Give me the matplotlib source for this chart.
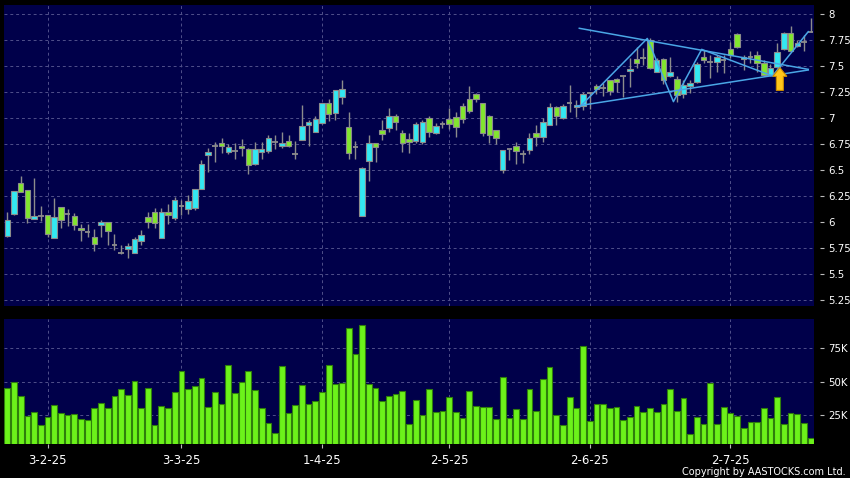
import numpy as np
import matplotlib
matplotlib.use("Agg")
import matplotlib.pyplot as plt
from matplotlib.patches import FancyArrow

# daily candles, oldest first
opens = [5.87, 6.08, 6.375, 6.31, 6.03, 6.055, 6.065, 5.845, 6.145, 6.075,
         6.06, 5.94, 5.90, 5.86, 5.97, 6.0, 5.78, 5.70, 5.74, 5.70,
         5.815, 6.05, 6.095, 5.845, 6.095, 6.035, 6.155, 6.125, 6.13, 6.315,
         6.645, 6.73, 6.755, 6.67, 6.685, 6.735, 6.70, 6.56, 6.67, 6.685,
         6.77, 6.735, 6.775, 6.655, 6.79, 6.93, 6.87, 6.95, 7.14, 7.045,
         7.20, 6.915, 6.725, 6.06, 6.585, 6.755, 6.885, 6.90, 7.015, 6.86,
         6.795, 6.775, 6.765, 7.0, 6.86, 6.94, 6.995, 7.005, 7.12, 7.18,
         7.23, 7.14, 7.02, 6.88, 6.50, 6.70, 6.735, 6.655, 6.69, 6.86,
         6.815, 6.935, 7.11, 7.0, 7.14, 7.105, 7.12, 7.245, 7.31, 7.285,
         7.365, 7.375, 7.40, 7.45, 7.565, 7.58, 7.75, 7.445, 7.565, 7.40,
         7.375, 7.235, 7.31, 7.35, 7.585, 7.535, 7.54, 7.56, 7.66, 7.805,
         7.565, 7.59, 7.605, 7.525, 7.415, 7.495, 7.66, 7.815, 7.69, 7.735,
         7.83]
highs = [6.10, 6.30, 6.445, 6.31, 6.42, 6.155, 6.07, 6.23, 6.145, 6.125,
         6.085, 5.985, 5.985, 5.935, 6.02, 6.0, 5.88, 5.78, 5.80, 5.86,
         5.925, 6.095, 6.13, 6.135, 6.175, 6.245, 6.21, 6.255, 6.315, 6.60,
         6.71, 6.77, 6.81, 6.75, 6.755, 6.795, 6.71, 6.765, 6.77, 6.835,
         6.835, 6.87, 6.835, 6.78, 7.125, 6.98, 7.02, 7.14, 7.18, 7.265,
         7.37, 7.055, 6.78, 6.53, 6.835, 6.755, 6.98, 7.10, 7.04, 6.885,
         6.855, 6.965, 6.98, 7.02, 6.95, 6.975, 7.10, 7.06, 7.14, 7.31,
         7.24, 7.14, 7.03, 6.885, 6.695, 6.70, 6.765, 6.69, 6.855, 6.935,
         7.0, 7.14, 7.12, 7.13, 7.315, 7.175, 7.25, 7.25, 7.33, 7.335,
         7.37, 7.38, 7.40, 7.575, 7.685, 7.67, 7.765, 7.575, 7.575, 7.59,
         7.40, 7.365, 7.365, 7.54, 7.655, 7.61, 7.605, 7.61, 7.73, 7.815,
         7.605, 7.64, 7.64, 7.56, 7.515, 7.72, 7.83, 7.88, 7.75, 7.80,
         7.96]
lows = [5.86, 6.07, 6.285, 5.99, 6.03, 6.005, 5.855, 5.845, 5.94, 5.965,
        5.925, 5.815, 5.855, 5.72, 5.855, 5.775, 5.735, 5.69, 5.655, 5.70,
        5.78, 5.94, 5.94, 5.845, 5.985, 6.015, 6.065, 6.075, 6.12, 6.315,
        6.485, 6.58, 6.665, 6.655, 6.61, 6.63, 6.46, 6.545, 6.61, 6.66,
        6.70, 6.715, 6.72, 6.605, 6.785, 6.735, 6.87, 6.94, 6.975, 6.985,
        7.13, 6.61, 6.61, 6.06, 6.39, 6.58, 6.79, 6.87, 6.885, 6.675,
        6.66, 6.76, 6.75, 6.82, 6.85, 6.90, 6.89, 6.82, 6.95, 7.045,
        7.15, 6.825, 6.755, 6.75, 6.47, 6.595, 6.555, 6.565, 6.65, 6.735,
        6.77, 6.93, 6.935, 6.99, 7.06, 7.005, 7.075, 7.085, 7.23, 7.21,
        7.22, 7.25, 7.205, 7.30, 7.48, 7.51, 7.47, 7.44, 7.33, 7.39,
        7.155, 7.19, 7.245, 7.34, 7.525, 7.38, 7.445, 7.43, 7.575, 7.67,
        7.46, 7.525, 7.445, 7.405, 7.40, 7.48, 7.65, 7.64, 7.68, 7.64,
        7.83]
closes = [6.02, 6.30, 6.29, 6.035, 6.06, 6.055, 5.885, 6.05, 6.015, 6.075,
          5.97, 5.925, 5.90, 5.79, 6.0, 5.915, 5.78, 5.70, 5.77, 5.835,
          5.875, 6.0, 5.99, 6.095, 6.065, 6.21, 6.155, 6.205, 6.315, 6.56,
          6.675, 6.73, 6.73, 6.725, 6.685, 6.715, 6.545, 6.70, 6.705, 6.81,
          6.77, 6.76, 6.735, 6.655, 6.92, 6.96, 6.995, 7.14, 7.04, 7.265,
          7.28, 6.66, 6.725, 6.515, 6.755, 6.72, 6.85, 7.015, 6.965, 6.755,
          6.765, 6.94, 6.96, 6.87, 6.925, 6.94, 6.94, 6.91, 6.99, 7.065,
          7.185, 6.855, 6.835, 6.805, 6.69, 6.70, 6.685, 6.655, 6.805, 6.815,
          6.96, 7.11, 7.02, 7.12, 7.14, 7.125, 7.235, 7.245, 7.28, 7.285,
          7.26, 7.35, 7.40, 7.47, 7.525, 7.58, 7.48, 7.56, 7.365, 7.44,
          7.22, 7.315, 7.34, 7.52, 7.56, 7.535, 7.585, 7.56, 7.605, 7.685,
          7.59, 7.59, 7.525, 7.415, 7.48, 7.63, 7.815, 7.645, 7.725, 7.735,
          7.83]
# volume in thousands
volumes = [45.4, 49.9, 39.2, 24.5, 27.0, 17.3, 23.2, 32.5, 26.5, 24.8,
           26.0, 22.0, 21.5, 30.2, 33.9, 30.2, 39.2, 44.7, 40.2, 50.1,
           30.5, 45.4, 17.5, 32.0, 30.2, 41.9, 58.1, 44.2, 46.4, 52.9,
           30.7, 42.2, 33.2, 62.1, 41.4, 49.9, 57.9, 43.4, 30.5, 19.0,
           11.3, 61.6, 26.7, 32.5, 47.1, 33.5, 35.7, 42.2, 62.3, 47.9,
           49.1, 89.7, 70.8, 92.2, 47.9, 45.4, 35.7, 39.4, 40.7, 43.2,
           18.5, 36.2, 25.0, 44.2, 27.6, 28.1, 38.4, 27.1, 23.0, 42.9,
           31.7, 31.2, 30.7, 22.0, 53.1, 23.0, 29.5, 22.0, 44.5, 27.9,
           51.6, 60.8, 25.2, 17.5, 38.2, 30.2, 76.5, 20.5, 33.5, 33.0,
           30.0, 31.2, 21.3, 23.8, 31.7, 27.1, 30.2, 27.1, 33.0, 44.2,
           27.9, 37.7, 10.8, 23.5, 18.5, 49.1, 18.0, 31.2, 26.7, 24.5,
           15.3, 19.5, 20.0, 30.0, 22.5, 38.7, 18.0, 26.2, 25.5, 19.0,
           7.9]

date_labels = ["3-2-25", "3-3-25", "1-4-25", "2-5-25", "2-6-25", "2-7-25"]
date_pos = [6, 26, 47, 66, 87, 108]
price_ticks = [8, 7.75, 7.5, 7.25, 7, 6.75, 6.5, 6.25, 6, 5.75, 5.5, 5.25]
vol_ticks = [25, 50, 75]

# triangle pattern lines (bar index, price)
upper_x = [85.44, 119.64]
upper_y = [7.8625, 7.468]
lower_x = [85.05, 119.64]
lower_y = [7.115, 7.4615]
zig_x = [85.54, 95.6, 99.5, 103.72, 114.3, 119.64]
zig_y = [7.109, 7.765, 7.157, 7.66, 7.404, 7.83]

###################################################

PANEL = "#00004a"
GRID = "#50508a"
UP = "#33e8f2"
DOWN = "#82e62e"
EDGE = "#8c8c8c"
VOL = "#6cf21a"
LINE = "#4aa6e6"

o, h, l, c = (np.array(a) for a in (opens, highs, lows, closes))
x = np.arange(len(o))

fig = plt.figure(figsize=(8.5, 4.78), dpi=100, facecolor="black")
ax1 = fig.add_axes([4/850, 1-306/478, 810/850, 301/478])
ax2 = fig.add_axes([4/850, 1-444/478, 810/850, 125/478])

for ax in (ax1, ax2):
    ax.set_facecolor(PANEL)
    ax.set_xlim(-0.5, len(o)-0.5)
    for s in ax.spines.values():
        s.set_color("none")
    ax.spines["right"].set_position(("outward", 4))
    ax.yaxis.tick_right()
    ax.set_xticks(date_pos)
    ax.grid(True, color=GRID, linestyle=(0, (3, 3)), linewidth=0.7)
    ax.set_axisbelow(True)
    ax.tick_params(axis="y", colors="#bbbbbb", labelcolor="white",
                   length=3, width=0.8, pad=3, labelsize=7.3)

# candles
ax1.vlines(x, l, h, color=EDGE, linewidth=1, zorder=2)
up = c > o
dn = c < o
flat = c == o
ax1.bar(x[up], (c-o)[up], bottom=o[up], width=0.82, color=UP,
        edgecolor=EDGE, linewidth=0.8, zorder=3)
ax1.bar(x[dn], (o-c)[dn], bottom=c[dn], width=0.82, color=DOWN,
        edgecolor=EDGE, linewidth=0.8, zorder=3)
ax1.hlines(c[flat], x[flat]-0.42, x[flat]+0.42, color=EDGE, linewidth=1.3, zorder=3)

ax1.plot(upper_x, upper_y, color=LINE, linewidth=1.1, zorder=4)
ax1.plot(lower_x, lower_y, color=LINE, linewidth=1.1, zorder=4)
ax1.plot(zig_x, zig_y, color=LINE, linewidth=1.1, zorder=4)

ax1.add_patch(FancyArrow(115.4, 7.265, 0, 0.22, width=1.05, head_width=2.1,
                         head_length=0.085, length_includes_head=True,
                         facecolor="#ffc61a", edgecolor="#c98a00",
                         linewidth=0.8, zorder=5))

ax1.set_ylim(5.1923, 8.0865)
ax1.set_yticks(price_ticks)
ax1.set_yticklabels([("%g" % t) for t in price_ticks])
ax1.tick_params(axis="x", length=0, labelbottom=False)

# volume
ax2.bar(x, volumes, width=0.86, color=VOL, edgecolor="#2f7f0c",
        linewidth=0.8, zorder=3)
ax2.set_ylim(3.4, 96.6)
ax2.set_yticks(vol_ticks)
ax2.set_yticklabels(["%dK" % v for v in vol_ticks])
ax2.set_xticklabels(date_labels)
ax2.tick_params(axis="x", colors="#bbbbbb", labelcolor="white",
                length=3, width=0.8, pad=4, labelsize=8.5)

fig.text(846/850, 1-472/478, "Copyright by AASTOCKS.com Ltd.", color="white",
         fontsize=7, ha="right", va="center")

fig.savefig("out.png", dpi=100, facecolor="black")
